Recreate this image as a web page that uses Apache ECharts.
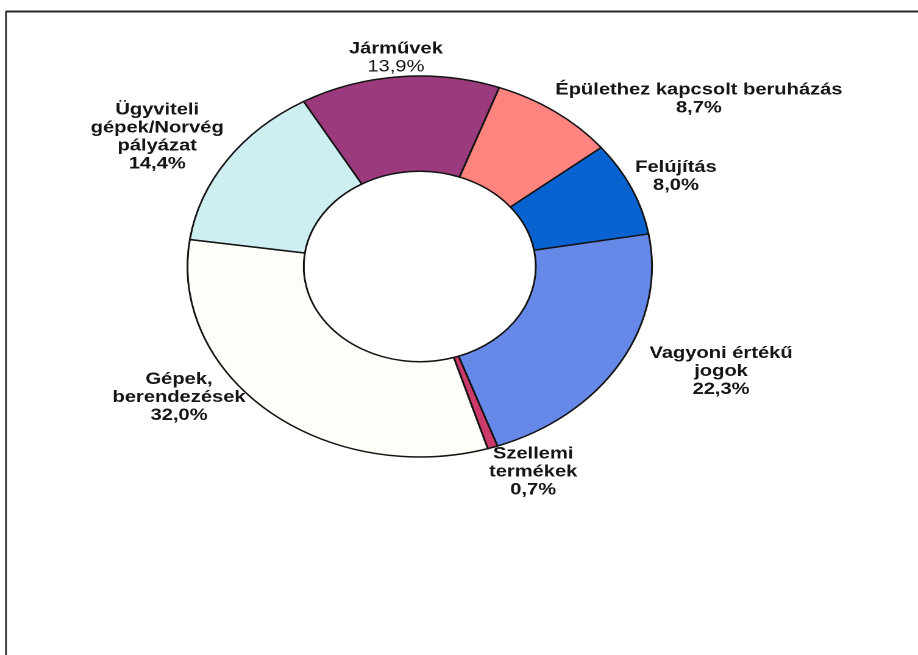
<!DOCTYPE html>
<html>
<head>
<meta charset="utf-8">
<script src="https://cdn.jsdelivr.net/npm/echarts@6/dist/echarts.min.js"></script>
<style>
  html, body { margin: 0; padding: 0; background: #ffffff; overflow: hidden; }
  /* the whole figure is stretched sideways, so the doughnut reads as an ellipse */
  #chart { width: 753px; height: 655px; transform: scaleX(1.2191); transform-origin: 0 0; }
</style>
</head>
<body>
<div id="chart"></div>
<script>
// Breakdown of investments by type (%)
const categories = [
  'Járművek',
  'Épülethez kapcsolt beruházás',
  'Felújítás',
  'Vagyoni értékű jogok',
  'Szellemi termékek',
  'Gépek, berendezések',
  'Ügyviteli gépek/Norvég pályázat'
];
const shares = [13.9, 8.7, 8.0, 22.3, 0.7, 32.0, 14.4];
// how each category name is broken into lines on its label
const labelLines = [
  ['Járművek'],
  ['Épülethez kapcsolt beruházás'],
  ['Felújítás'],
  ['Vagyoni értékű', 'jogok'],
  ['Szellemi', 'termékek'],
  ['Gépek,', 'berendezések'],
  ['Ügyviteli', 'gépek/Norvég', 'pályázat']
];

// slice fills
const sliceColors = ['#9B3A7C', '#FF8480', '#0862CF', '#6688E8', '#CC3A6A', '#FEFDF7', '#CDEFF1'];

// geometry of the doughnut (pixels, before the sideways stretch)
const CX = 344.3, CY = 266.5, R_OUT = 190.5, R_IN = 95.2;
const START_ANGLE = 120; // degrees, counter-clockwise from 3 o'clock

// label placement relative to the outer edge at each slice's mid-angle
const labelPlacement = [
  { align: 'center', vAlign: 'bottom', dx: -3, dy: -1, nameW: 'bold', pctW: 'normal' },
  { align: 'left', vAlign: 'bottom', dx: 0, dy: 5, nameW: 'bold', pctW: 'bold' },
  { align: 'left', vAlign: 'middle', dx: 3, dy: -12, nameW: 'bold', pctW: 'bold' },
  { align: 'left', vAlign: 'middle', dx: 24, dy: 9, nameW: 'bold', pctW: 'bold' },
  { align: 'left', vAlign: 'top', dx: -3, dy: -2.5, nameW: 'bold', pctW: 'bold' },
  { align: 'right', vAlign: 'middle', dx: -19, dy: -14, nameW: 'bold', pctW: 'bold' },
  { align: 'right', vAlign: 'bottom', dx: -3, dy: 13, nameW: 'bold', pctW: 'bold' }
];

const total = shares.reduce((a, b) => a + b, 0);
const cumBefore = shares.map((_, i) => shares.slice(0, i).reduce((a, b) => a + b, 0));

function pctText(v) {
  return v.toFixed(1).replace('.', ',') + '%';
}

const FONT = '"Liberation Sans", Arial, Helvetica, sans-serif';
const richBase = { align: 'center', fontFamily: FONT, fontSize: 16.5, lineHeight: 18, color: '#161616' };

const data = categories.map((name, i) => {
  const pl = labelPlacement[i];
  const nameStyle = pl.nameW === 'bold' ? 'b' : 'n';
  const pctStyle = pl.pctW === 'bold' ? 'b' : 'n';
  const text = labelLines[i].map(l => '{' + nameStyle + '|' + l + '}').join('\n') +
    '\n{' + pctStyle + '|' + pctText(shares[i]) + '}';
  return {
    name: name,
    value: shares[i],
    itemStyle: { color: sliceColors[i] },
    label: { formatter: text }
  };
});

const chart = echarts.init(document.getElementById('chart'), null, { renderer: 'canvas', devicePixelRatio: 2 });

chart.setOption({
  animation: false,
  backgroundColor: '#ffffff',
  graphic: [
    { type: 'line', shape: { x1: 4.9, y1: 11.5, x2: 760, y2: 11.5 }, style: { stroke: '#2a2a2a', lineWidth: 2 } },
    { type: 'line', shape: { x1: 4.9, y1: 11, x2: 4.9, y2: 660 }, style: { stroke: '#2a2a2a', lineWidth: 1.4 } }
  ],
  series: [{
    type: 'pie',
    center: [CX, CY],
    radius: [R_IN, R_OUT],
    startAngle: START_ANGLE,
    clockwise: true,
    avoidLabelOverlap: false,
    silent: true,
    emphasis: { disabled: true },
    itemStyle: { borderColor: '#141414', borderWidth: 1.5 },
    label: {
      show: true,
      position: 'outside',
      fontFamily: FONT,
      fontSize: 16.5,
      lineHeight: 18,
      color: '#161616',
      rich: {
        b: Object.assign({}, richBase, { fontWeight: 'bold' }),
        n: Object.assign({}, richBase, { fontWeight: 'normal' })
      }
    },
    labelLine: { show: false },
    labelLayout: function (params) {
      const i = params.dataIndex;
      const pl = labelPlacement[i];
      // mid-angle of the slice, clockwise from 12 o'clock
      const startFromTop = 90 - START_ANGLE;
      const mid = (startFromTop + (cumBefore[i] + shares[i] / 2) / total * 360) * Math.PI / 180;
      const ax = CX + R_OUT * Math.sin(mid);
      const ay = CY - R_OUT * Math.cos(mid);
      return {
        x: ax + pl.dx,
        y: ay + pl.dy,
        align: pl.align,
        verticalAlign: pl.vAlign
      };
    },
    data: data
  }]
});
</script>
</body>
</html>
